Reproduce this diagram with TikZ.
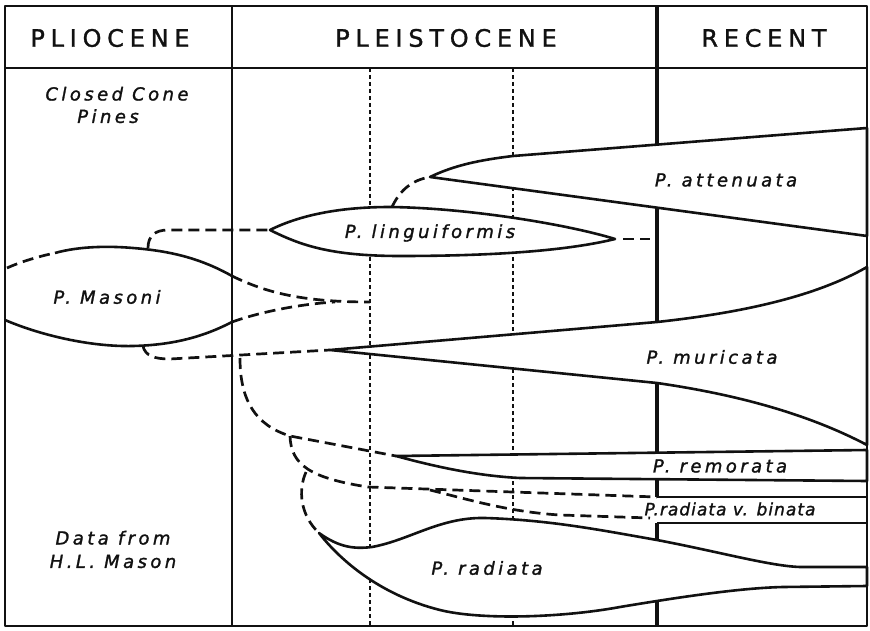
\documentclass[tikz,border=0pt]{standalone}
\usepackage{fontspec}
\setmainfont{DejaVu Sans}
\usetikzlibrary{positioning}
\definecolor{Ink}{HTML}{111111}
\definecolor{Paper}{HTML}{FFFFFF}
\tikzset{
    epoch/.style={font=\fontsize{24}{24}\selectfont\addfontfeature{LetterSpace=24, FakeBold=1.2}, text=Ink, inner sep=0pt},
    taxon/.style={font=\fontsize{18}{18}\selectfont\itshape\addfontfeature{LetterSpace=19, FakeBold=1.4}, text=Ink, inner sep=0pt},
    tight/.style={font=\fontsize{17}{17}\selectfont\itshape\addfontfeature{LetterSpace=6, FakeBold=1.4}},
    note/.style={taxon, text height=13pt, text depth=4pt},
    rule/.style={draw=Ink, line width=1.8pt},
    heavy/.style={draw=Ink, line width=4pt},
    guide/.style={draw=Ink, line width=1.5pt, dash pattern=on 4pt off 3pt},
    band/.style={draw=Ink, fill=Paper, line width=2.6pt},
    outline/.style={draw=Ink, line width=2.6pt},
    link/.style={draw=Ink, line width=2.7pt, dash pattern=on 11pt off 6pt},
}

\begin{document}
\begin{tikzpicture}[x=1pt, y=-1pt, line join=round]
    \useasboundingbox (0,0) rectangle (870,631);
    % epochs
    \draw[rule] (232,6) -- (232,626);
    \draw[guide] (370,68) -- (370,626);
    \draw[guide] (513,68) -- (513,626);
    \draw[heavy] (657,6) -- (657,626);
    \draw[rule] (5,68) -- (867,68);
    \node[epoch] (plio) at (110,38) {PLIOCENE};
    \node[epoch] (pleist) at (446,38) {PLEISTOCENE};
    \node[epoch] (recent) at (764,38) {RECENT};

    % tips and forks
    \coordinate (masL) at (7,268);
    \coordinate (masTR) at (232,276);
    \coordinate (masBR) at (232,322);
    \coordinate (masTop) at (148,248);
    \coordinate (masBot) at (143,346);
    \coordinate (lingL) at (270,230);
    \coordinate (lingR) at (615,239);
    \coordinate (lingTop) at (392,207);
    \coordinate (attTip) at (430,177);
    \coordinate (murTip) at (330,350);
    \coordinate (remTip) at (396,456);
    \coordinate (radTip) at (319,533);
    \coordinate (binTop) at (657,497);
    \coordinate (forkA) at (240,358);
    \coordinate (forkB) at (290,436);
    \coordinate (forkC) at (306,472);
    \coordinate (forkD) at (430,490);

    % P. attenuata
    \filldraw[band] (attTip) .. controls (455,165) and (480,160) .. (513,156) -- (867,128) -- (867,236) -- cycle;
    % P. muricata
    \filldraw[band] (murTip) -- (657,322) .. controls (740,313) and (815,297) .. (867,267) -- (867,445)
        .. controls (810,415) and (740,395) .. (657,383) -- cycle;
    % P. remorata
    \filldraw[band] (remTip) -- (867,450) -- (867,481) -- (520,478) .. controls (480,476) and (440,468) .. (remTip) -- cycle;
    % P. radiata v. binata
    \fill[Paper] (655,497) rectangle (867,523);
    \draw[outline] (binTop) -- (867,497) (657,523) -- (867,523);
    % P. radiata
    \filldraw[band] (radTip) .. controls (340,548) and (355,549) .. (372,547) .. controls (410,540) and (440,517) .. (485,518)
        .. controls (550,520) and (600,530) .. (657,540) .. controls (720,552) and (770,566) .. (800,567) -- (867,567)
        -- (867,586) -- (783,587) .. controls (740,588) and (680,597) .. (620,607)
        .. controls (560,618) and (480,620) .. (440,610) .. controls (380,595) and (340,560) .. (radTip) -- cycle;
    % P. linguiformis
    \filldraw[band] (lingL) .. controls (300,215) and (340,207) .. (390,207) .. controls (470,208) and (570,225) .. (lingR)
        .. controls (570,250) and (500,256) .. (400,256) .. controls (330,256) and (300,245) .. (lingL) -- cycle;
    % P. Masoni
    \draw[outline] (55,253) .. controls (80,246) and (110,246) .. (133,248) .. controls (170,251) and (200,258) .. (masTR);
    \draw[outline] (5,320) .. controls (40,335) and (90,347) .. (133,346) .. controls (175,345) and (205,336) .. (masBR);

    % links
    \draw[link] (masL) .. controls (20,262) and (40,256) .. (55,253);
    \draw[link] (masTR) .. controls (265,292) and (300,302) .. (370,302);
    \draw[link] (masBR) .. controls (260,312) and (300,304) .. (335,302);
    \draw[link] (masTop) .. controls (148,236) and (155,230) .. (168,230) -- (lingL);
    \draw[link] (lingTop) .. controls (400,190) and (412,180) .. (attTip);
    \draw[link] (623,239) -- (650,239);
    \draw[link] (masBot) .. controls (145,356) and (155,359) .. (170,359) -- (murTip);
    \draw[link] (forkA) .. controls (240,400) and (255,425) .. (forkB) -- (remTip);
    \draw[link] (forkB) .. controls (291,465) and (310,478) .. (368,487) -- (binTop);
    \draw[link] (forkC) .. controls (298,490) and (300,515) .. (radTip);
    \draw[link] (forkD) .. controls (470,500) and (510,512) .. (560,515) -- (650,518);

    % labels
    \node[taxon] (masoni) at (107,297) {P. Masoni};
    \node[taxon] (ling) at (430,233) {P. linguiformis};
    \node[taxon] (att) at (726,180) {P. attenuata};
    \node[taxon] (mur) at (712,357) {P. muricata};
    \node[taxon] (rem) at (720,466) {P. remorata};
    \node[taxon, tight] (bin) at (730,509) {P.radiata v. binata};
    \node[taxon] (rad) at (487,568) {P. radiata};
    \node[note] (closed) at (117,96) {Closed Cone};
    \node[note, below=5pt of closed, xshift=-9pt] (pines) {Pines};
    \node[note] (data) at (113,540) {Data from};
    \node[note, below=6pt of data] (mason) {H.L. Mason};

    \draw[rule] (5,6) rectangle (867,626);
\end{tikzpicture}
\end{document}
